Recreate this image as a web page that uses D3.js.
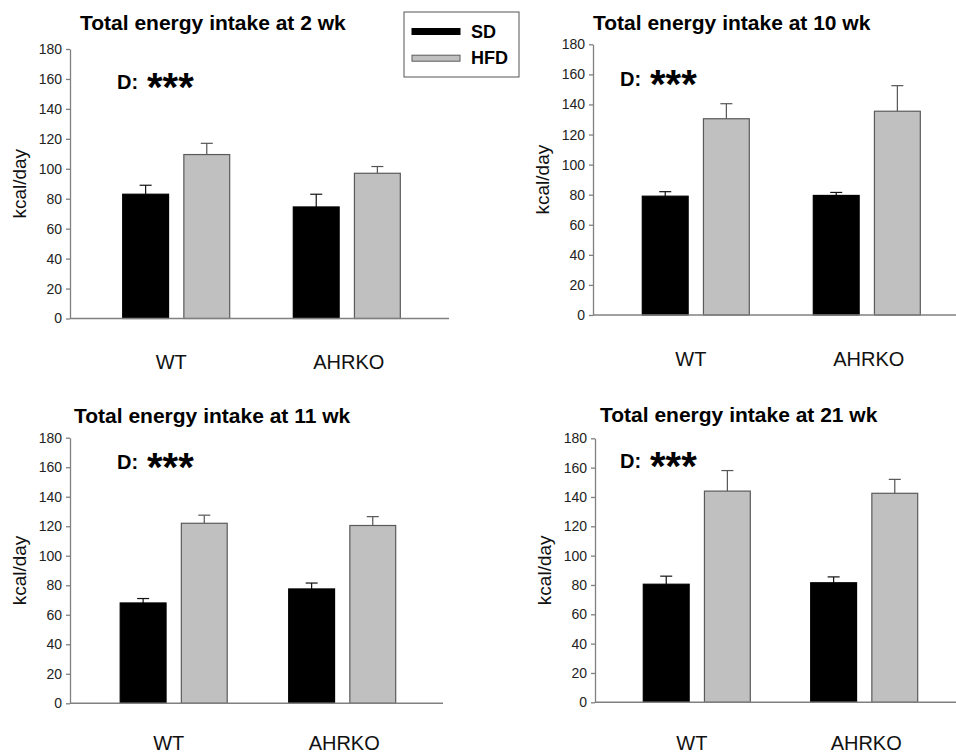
<!DOCTYPE html>
<html>
<head>
<meta charset="utf-8">
<script src="https://cdn.jsdelivr.net/npm/d3@7"></script>
<style>
  html, body { margin: 0; padding: 0; background: #fff; }
  svg { display: block; }
  text { font-family: "Liberation Sans", Arial, sans-serif; }
</style>
</head>
<body>
<svg id="chart" width="956" height="754"></svg>
<script>
// ---------------- data ----------------
const titles = [
  "Total energy intake at 2 wk",
  "Total energy intake at 10 wk",
  "Total energy intake at 11 wk",
  "Total energy intake at 21 wk"
];
const groups = ["WT", "AHRKO"];
const series = ["SD", "HFD"];
const sdMeans  = [[83, 74.5], [79, 79.5], [68, 77.5], [80.5, 81.5]];
const sdErrs   = [[6, 8.5],   [3, 2],     [3, 4],     [5.5, 4]];
const hfdMeans = [[109.5, 97], [130.5, 135.5], [122, 120.5], [144, 142.5]];
const hfdErrs  = [[7.5, 4.5],  [10, 17],       [5.5, 6],     [14, 9.5]];
const yTicks = [0, 20, 40, 60, 80, 100, 120, 140, 160, 180];
const yMax = 180;
const yLabel = "kcal/day";
const sigLabel = "D:";
const sigStars = "***";

// ---------------- layout (styling only) ----------------
const layout = [
  { x0: 70,  x1: 449, yZero: 318.5, yTop: 49,    c: [176.2, 346.8], tx: 80,  ty: 30,  dx: 117, dy: 89,  lab: 50 },
  { x0: 593, x1: 956, yZero: 315,   yTop: 44.3,  c: [695.8, 866.8], tx: 593, ty: 30,  dx: 620, dy: 86,  lab: 51 },
  { x0: 70,  x1: 443, yZero: 703.3, yTop: 437.7, c: [173.7, 342.2], tx: 74,  ty: 423, dx: 117, dy: 469, lab: 47 },
  { x0: 595, x1: 956, yZero: 702.3, yTop: 438.3, c: [696.8, 864.2], tx: 600, ty: 422, dx: 620, dy: 468, lab: 48 }
];
const colors = { SD: "#000000", HFD: "#c0c0c0" };
const strokes = { SD: "#000000", HFD: "#5a5a5a" };
const labelShift = { WT: -5, AHRKO: 2 };

const svg = d3.select("#chart");

layout.forEach((L, i) => {
  const g = svg.append("g");
  const y = d3.scaleLinear().domain([0, yMax]).range([L.yZero, L.yTop]);
  const xg = d3.scalePoint().domain(groups).range(L.c);
  const xs = d3.scaleBand().domain(series).range([-53.5, 53.5]).paddingInner(0.25);

  // title
  g.append("text").attr("x", L.tx).attr("y", L.ty)
    .attr("font-size", 21).attr("font-weight", "bold").attr("fill", "#000")
    .text(titles[i]);

  // y axis
  const ya = g.append("g").attr("transform", `translate(${L.x0},0)`)
    .call(d3.axisLeft(y).tickValues(yTicks).tickSize(4).tickSizeOuter(0).tickPadding(4));
  ya.select(".domain").attr("stroke", "#808080").attr("stroke-width", 1.3);
  ya.selectAll(".tick line").attr("stroke", "#808080").attr("stroke-width", 1.3);
  ya.selectAll(".tick text").attr("font-size", 14).attr("fill", "#222")
    .attr("font-family", "'Liberation Sans', Arial, sans-serif");

  // y label
  g.append("text")
    .attr("transform", `translate(${L.x0 - 51},${(L.yZero + L.yTop) / 2}) rotate(-90)`)
    .attr("text-anchor", "middle").attr("dominant-baseline", "central")
    .attr("font-size", 19).attr("fill", "#111").text(yLabel);

  // bars
  const rows = [];
  groups.forEach((grp, k) => {
    rows.push({ grp, s: "SD",  v: sdMeans[i][k],  e: sdErrs[i][k] });
    rows.push({ grp, s: "HFD", v: hfdMeans[i][k], e: hfdErrs[i][k] });
  });

  rows.forEach(r => {
    const cx = xg(r.grp) + xs(r.s) + xs.bandwidth() / 2;
    const col = r.s === "SD" ? "#111" : "#555";
    g.append("line").attr("x1", cx).attr("x2", cx)
      .attr("y1", y(r.v)).attr("y2", y(r.v + r.e))
      .attr("stroke", col).attr("stroke-width", 1.2);
    g.append("line").attr("x1", cx - 6).attr("x2", cx + 6)
      .attr("y1", y(r.v + r.e)).attr("y2", y(r.v + r.e))
      .attr("stroke", col).attr("stroke-width", 1.2);
  });

  g.selectAll("rect.bar").data(rows).enter().append("rect")
    .attr("class", "bar")
    .attr("x", d => xg(d.grp) + xs(d.s))
    .attr("width", xs.bandwidth())
    .attr("y", d => y(d.v))
    .attr("height", d => y(0) - y(d.v))
    .attr("fill", d => colors[d.s])
    .attr("stroke", d => strokes[d.s])
    .attr("stroke-width", 1.2);

  // x axis line
  g.append("line").attr("x1", L.x0).attr("x2", L.x1)
    .attr("y1", y(0)).attr("y2", y(0))
    .attr("stroke", "#808080").attr("stroke-width", 1.5);

  // category labels
  groups.forEach(grp => {
    g.append("text").attr("x", xg(grp) + labelShift[grp]).attr("y", y(0) + L.lab)
      .attr("text-anchor", "middle").attr("font-size", 20).attr("fill", "#111")
      .text(grp);
  });

  // significance
  g.append("text").attr("x", L.dx).attr("y", L.dy)
    .attr("font-size", 20).attr("font-weight", "bold").attr("fill", "#000")
    .text(sigLabel);
  g.append("text").attr("x", L.dx + 30).attr("y", L.dy + 12)
    .attr("font-size", 40).attr("font-weight", "bold").attr("fill", "#000")
    .text(sigStars);
});

// legend
const leg = svg.append("g");
leg.append("rect").attr("x", 404).attr("y", 12).attr("width", 115).attr("height", 65)
  .attr("fill", "#fff").attr("stroke", "#555").attr("stroke-width", 1);
series.forEach((s, k) => {
  const yy = 28.5 + k * 26.7;
  leg.append("rect").attr("x", 412).attr("y", yy).attr("width", 48).attr("height", 6)
    .attr("fill", colors[s]).attr("stroke", strokes[s]).attr("stroke-width", 1);
  leg.append("text").attr("x", 471).attr("y", yy + 9)
    .attr("font-size", 18).attr("font-weight", "bold").attr("fill", "#000").text(s);
});
</script>
</body>
</html>
